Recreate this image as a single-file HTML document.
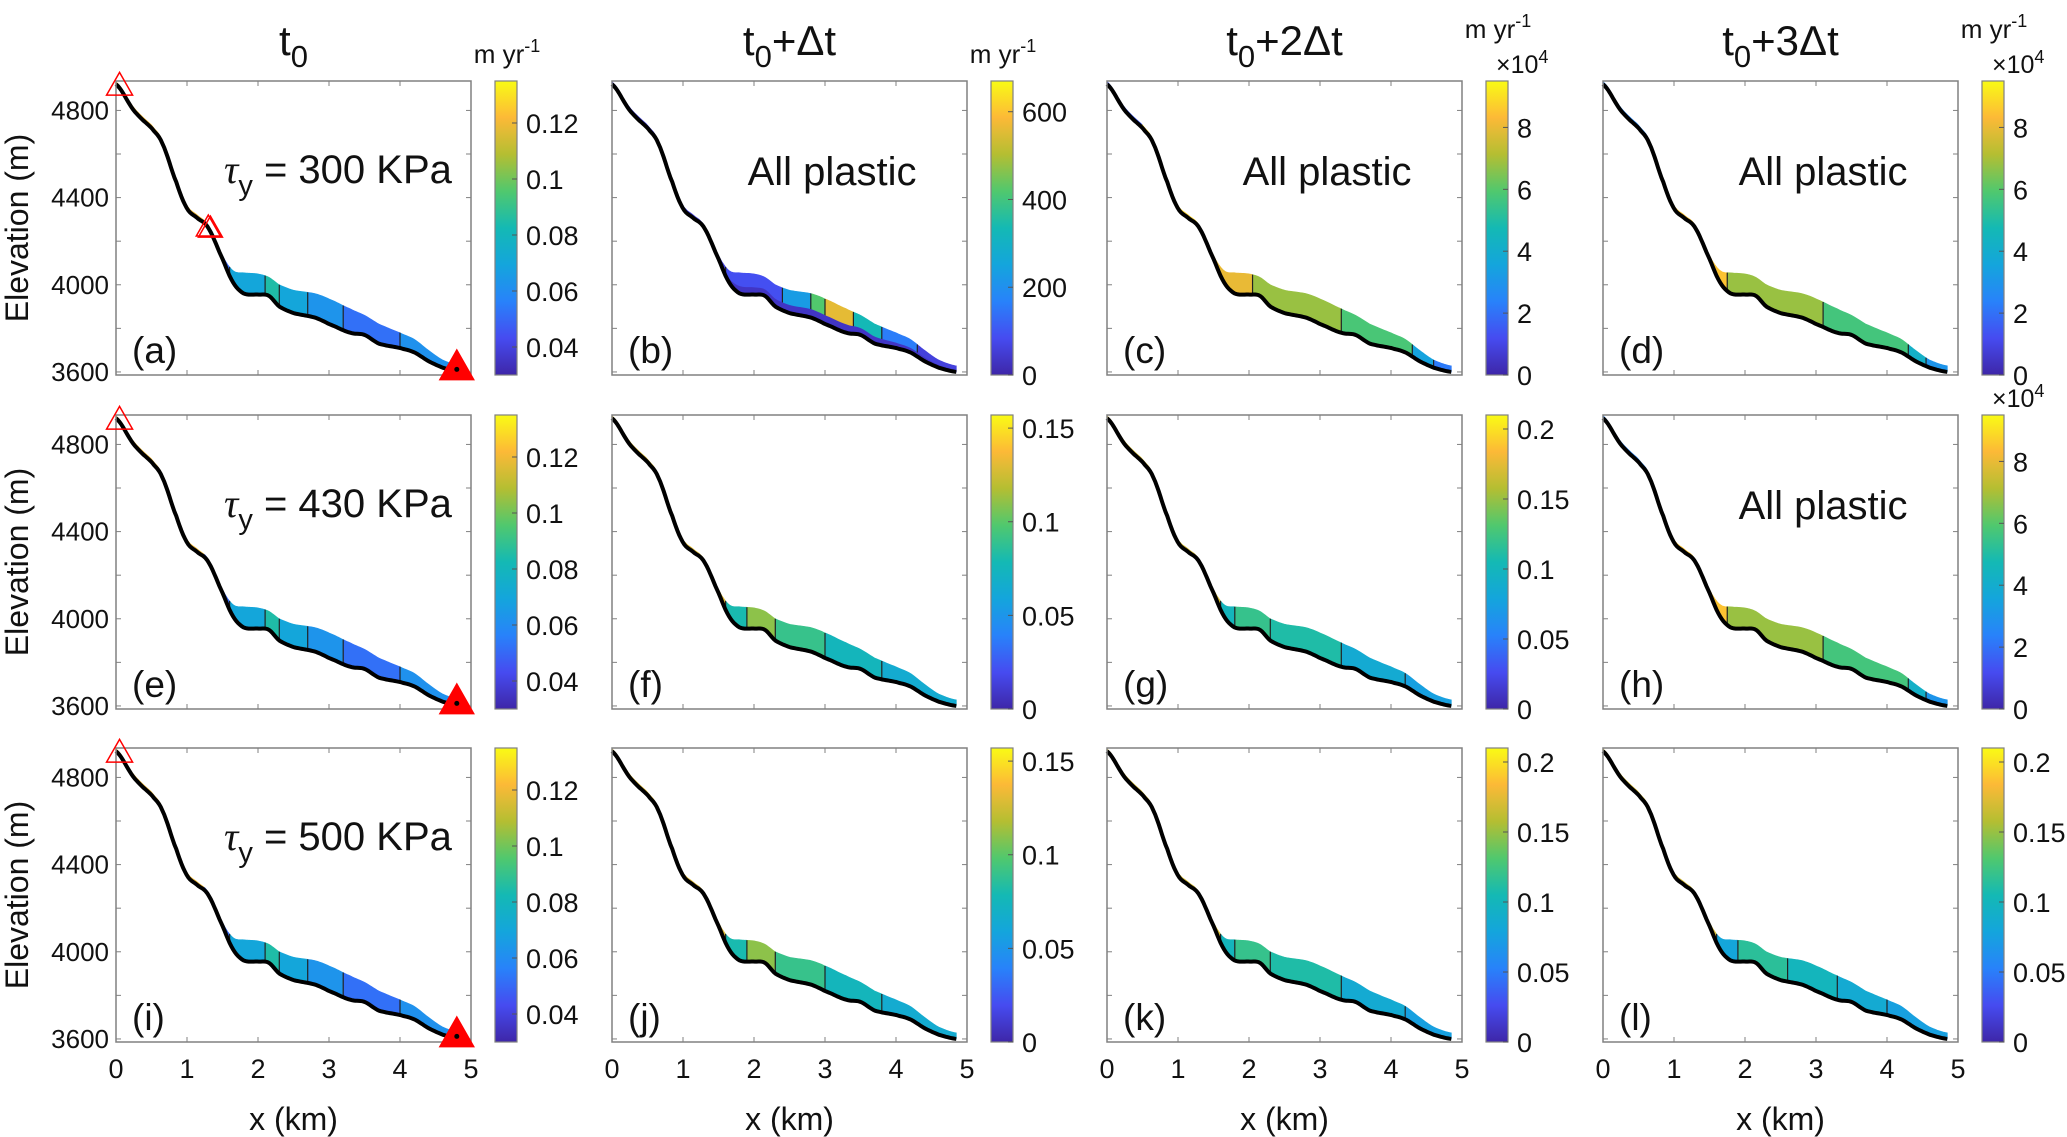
<!DOCTYPE html>
<html><head><meta charset="utf-8"><style>
body{margin:0;background:#fff;}
svg{display:block;font-family:"Liberation Sans",sans-serif;}
</style></head><body>
<svg id="fig" width="2067" height="1137" viewBox="0 0 2067 1137" xmlns="http://www.w3.org/2000/svg"></svg>
<script>
// ---- data ----
const bedX = [0,0.25,0.5,0.65,0.85,1.0,1.15,1.3,1.5,1.65,1.8,2.0,2.15,2.3,2.5,2.8,3.0,3.3,3.5,3.7,4.0,4.2,4.4,4.6,4.85];
const bedE = [4920,4800,4720,4650,4470,4350,4305,4260,4120,4010,3960,3955,3950,3900,3870,3850,3820,3780,3770,3730,3710,3690,3650,3620,3600];
const thick = [12,14,14,14,14,14,14,12,16,55,95,95,85,100,105,110,115,110,90,90,70,60,50,35,28];
const colTitles = ["t0","t0+Δt","t0+2Δt","t0+3Δt"];
const tauLabels = ["300","430","500"];
const panelLetters = ["a","b","c","d","e","f","g","h","i","j","k","l"];
const cbMin = [0.03,0,0,0, 0.03,0,0,0, 0.03,0,0,0];
const cbMax = [0.135,670,9.5,9.5, 0.135,0.157,0.21,9.5, 0.135,0.157,0.21,0.21];
const tickSets = {
  a:[0.04,0.06,0.08,0.1,0.12], b:[0,200,400,600], c:[0,2,4,6,8], f:[0,0.05,0.1,0.15], g:[0,0.05,0.1,0.15,0.2]
};
const panelTicks = ["a","b","c","c","a","f","g","c","a","f","g","g"];
const segB = {
  A:[0,1.25,1.6,2.1,2.3,2.7,3.2,4.0,4.85],
  B:[0,1.6,2.4,2.8,3.0,3.4,3.8,4.3,4.85],
  C:[0,0.5,1.5,2.05,3.3,4.3,4.6,4.85],
  D:[0,0.7,1.75,3.1,4.3,4.55,4.85],
  F:[0,1.6,1.9,2.3,3.0,3.8,4.85],
  G:[0,1.6,1.8,2.3,3.3,4.2,4.85],
  L:[0,1.6,1.9,2.6,3.3,4.0,4.85]
};
const segV = {
  A:[0.12,0.05,0.07,0.085,0.07,0.063,0.052,0.062],
  B:[60,90,230,420,560,330,160,60],
  C:[1.5,8.8,8.0,6.8,5.8,3.5,2.2],
  D:[2.5,8.5,6.8,5.7,4.2,3.0],
  F:[0.13,0.08,0.11,0.09,0.075,0.065],
  G:[0.17,0.1,0.12,0.11,0.085,0.075],
  L:[0.17,0.08,0.115,0.1,0.085,0.075]
};
const panelSeg = ["A","B","C","D","A","F","G","D","A","F","G","L"];
// ---- layout ----
const colL=[116,612,1107,1603], W=355, rowT=[81,415,748], H=294;
const X0=0,X1=5,Y0=3586,Y1=4935;
const svg=document.getElementById('fig');
const NS="http://www.w3.org/2000/svg";
function el(tag,attrs,parent){const e=document.createElementNS(NS,tag);for(const k in attrs)e.setAttribute(k,attrs[k]);(parent||svg).appendChild(e);return e;}
const P=[[0,[62,38,168]],[0.125,[70,75,240]],[0.25,[40,130,250]],[0.375,[20,165,220]],[0.5,[20,185,180]],[0.625,[80,200,110]],[0.75,[180,190,50]],[0.875,[252,185,55]],[1,[249,251,21]]];
function parula(t){t=Math.max(0,Math.min(1,t));for(let i=1;i<P.length;i++){if(t<=P[i][0]){const a=P[i-1],b=P[i],f=(t-a[0])/(b[0]-a[0]);return `rgb(${a[1].map((v,j)=>Math.round(v+(b[1][j]-v)*f)).join(',')})`;}}return 'rgb(249,251,21)';}
function interp(xs,ys,x){
  let i=0;while(i<xs.length-2&&x>xs[i+1])i++;
  const t=(x-xs[i])/(xs[i+1]-xs[i]);
  const p0=ys[Math.max(0,i-1)],p1=ys[i],p2=ys[i+1],p3=ys[Math.min(ys.length-1,i+2)];
  return 0.5*((2*p1)+(-p0+p2)*t+(2*p0-5*p1+4*p2-p3)*t*t+(-p0+3*p1-3*p2+p3)*t*t*t);
}
const bed=x=>interp(bedX,bedE,x), surf=x=>bed(x)+interp(bedX,thick,x);
const tk=(s,size,x,y,anchor,name,extra)=>{const t=el('text',Object.assign({x:x,y:y,'font-size':size,'text-anchor':anchor||'middle',fill:'#111'},extra||{}));t.textContent=s;return t;};

for(let r=0;r<3;r++)for(let c=0;c<4;c++){
  const idx=r*4+c, L=colL[c], T=rowT[r];
  const sx=x=>L+(x-X0)/(X1-X0)*W, sy=e=>T+H-(e-Y0)/(Y1-Y0)*H;
  const g=el('g',{});
  
  
  el('rect',{x:L,y:T,width:W,height:H,fill:'#fff'},g);
  const sb=segB[panelSeg[idx]], sv=segV[panelSeg[idx]];
  const vmin=cbMin[idx], vmax=cbMax[idx];
  for(let s=0;s<sv.length;s++){
    const a=sb[s],b=sb[s+1];let top=[],bot=[];
    for(let k=0;k<=30;k++){const x=a+(b-a)*k/30;top.push(sx(x)+','+sy(surf(x)));bot.unshift(sx(x)+','+sy(bed(x)));}
    const col=parula((sv[s]-vmin)/(vmax-vmin));
    const poly=el('polygon',{points:top.concat(bot).join(' '),fill:col,stroke:col,'stroke-width':0.6},g);
    
    
    if(s>0&&a>1.5){el('line',{x1:sx(a),y1:sy(bed(a)),x2:sx(a),y2:sy(surf(a)),stroke:'#222','stroke-width':1.2},g);}
  }
  if(panelSeg[idx]==="B"){
    let top=[],bot=[];
    for(let k=0;k<=80;k++){const x=1.6+(4.85-1.6)*k/80;top.push(sx(x)+','+sy(bed(x)+(surf(x)-bed(x))*0.35));bot.unshift(sx(x)+','+sy(bed(x)));}
    el('polygon',{points:top.concat(bot).join(' '),fill:parula(0.05)},g);
  }
  let d='';for(let k=0;k<=200;k++){const x=4.85*k/200;d+=(k?'L':'M')+sx(x).toFixed(1)+','+sy(bed(x)).toFixed(1);}
  const bl=el('path',{d:d,fill:'none',stroke:'#000','stroke-width':4},g);
  
  
  el('rect',{x:L,y:T,width:W,height:H,fill:'none',stroke:'#808080','stroke-width':1.5},g);
  for(let x=1;x<5;x++){el('line',{x1:sx(x),y1:T+H,x2:sx(x),y2:T+H-5,stroke:'#808080'},g);el('line',{x1:sx(x),y1:T,x2:sx(x),y2:T+5,stroke:'#808080'},g);}
  for(let e=3600;e<=4800;e+=200){el('line',{x1:L,y1:sy(e),x2:L+5,y2:sy(e),stroke:'#808080'},g);el('line',{x1:L+W,y1:sy(e),x2:L+W-5,y2:sy(e),stroke:'#808080'},g);}
  if(c===0){[3600,4000,4400,4800].forEach(e=>tk(String(e),26,L-7,sy(e)+9,'end','y-tick-label'));}
  if(r===2){for(let x=0;x<=5;x++)tk(String(x),27,sx(x),T+H+36,'middle','x-tick-label');}
  tk('('+panelLetters[idx]+')',37,L+16,T+H-12,'start','panel-label');
  const plastic=(idx===1||idx===2||idx===3||idx===7);
  if(plastic) tk('All plastic',40,L+W*0.62,T+104,'middle','all-plastic-note');
  if(c===0){const t=el('text',{x:L+108,y:T+102,'font-size':40,fill:'#111'});
    t.innerHTML='<tspan font-family="Liberation Serif" font-style="italic">τ</tspan><tspan font-size="29" dy="12">y</tspan><tspan dy="-12"> = '+tauLabels[r]+' KPa</tspan>';}
  if(c===0){
    const tri=(x,e,s,fill,sw)=>{const X=sx(x),Y=sy(e);const t=el('polygon',{points:`${X},${Y-s} ${X-s},${Y+s*0.75} ${X+s},${Y+s*0.75}`,fill:fill,stroke:'#f00','stroke-width':sw},g);};
    tri(0.05,4915,13,'none',1.5);
    if(r===0){tri(1.3,4265,12,'none',1.5);tri(1.33,4260,12,'none',1.5);}
    tri(4.8,3620,13,'#f00',6);
    el('circle',{cx:sx(4.8),cy:sy(3612),r:2.5,fill:'#000'},g);
  }
  const cx=L+W+24, cw=22;
  const gid='grad'+idx;
  const lg=el('linearGradient',{id:gid,x1:0,y1:1,x2:0,y2:0},g);
  for(let k=0;k<=16;k++)el('stop',{offset:k/16,'stop-color':parula(k/16)},lg);
  const cb=el('rect',{x:cx,y:T,width:cw,height:H,fill:`url(#${gid})`,stroke:'#808080','stroke-width':1.2},g);
  
  
  tickSets[panelTicks[idx]].forEach(v=>{const y=T+H-(v-vmin)/(vmax-vmin)*H;
    el('line',{x1:cx+cw-5,y1:y,x2:cx+cw,y2:y,stroke:'#555'},g);
    tk(String(v),27,cx+cw+9,y+10,'start','colorbar-tick-label');});
  const sci=(idx===2||idx===3||idx===7);
  if(r===0){const u=el('text',{x:cx+12,y:sci?T-43:T-18,'font-size':26,'text-anchor':'middle',fill:'#111'});u.innerHTML='m yr<tspan font-size="18" dy="-11">-1</tspan>';}
  if(sci){const u=el('text',{x:cx+10,y:T-8,'font-size':25,'text-anchor':'start',fill:'#111'});u.innerHTML='×10<tspan font-size="18" dy="-10">4</tspan>';}
  if(r===0){const t=el('text',{x:L+W/2,y:T-26,'font-size':42,'text-anchor':'middle',fill:'#111'});
    const s=colTitles[c];t.innerHTML='t<tspan font-size="31" dy="12">0</tspan><tspan dy="-12">'+s.slice(2)+'</tspan>';}
  if(c===0){tk('Elevation (m)',32,0,0,'middle','y-axis-title',{transform:`translate(28,${T+H/2}) rotate(-90)`});}
  if(r===2){tk('x (km)',32,L+W/2,1130,'middle','x-axis-title');}
}
</script>
</body></html>
